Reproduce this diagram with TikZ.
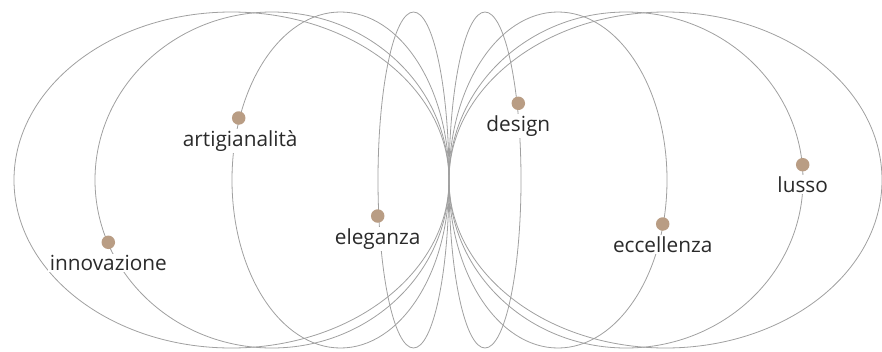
\documentclass[tikz,border=0pt]{standalone}
\usepackage{fontspec}
\setmainfont{Open Sans}
\definecolor{ringc}{HTML}{A0A0A0}
\definecolor{dotc}{HTML}{B99D84}
\definecolor{txtc}{HTML}{2A2A2A}
\tikzset{
  ring/.style={draw=ringc, line width=0.8pt},
  dotpt/.style={circle, fill=dotc, inner sep=0pt, minimum size=13.5pt},
  lbl/.style={fill=white, text=txtc, inner sep=1.5pt, anchor=base,
              font=\fontsize{20.8}{22}\selectfont},
}
\begin{document}
\begin{tikzpicture}[x=1pt,y=-1pt]
\useasboundingbox (0,0) rectangle (882,351);
% left ellipses
\draw[ring] (231.5,180) ellipse [x radius=217.5, y radius=168];
\draw[ring] (272,180) ellipse [x radius=177, y radius=168];
\draw[ring] (340.5,180) ellipse [x radius=108.5, y radius=168];
\draw[ring] (413.5,180) ellipse [x radius=35.5, y radius=168];
% right ellipses
\draw[ring] (485,180) ellipse [x radius=36, y radius=168];
\draw[ring] (558,180) ellipse [x radius=109, y radius=168];
\draw[ring] (626,180) ellipse [x radius=177, y radius=168];
\draw[ring] (665.5,180) ellipse [x radius=216.5, y radius=168];
% dot positions
\coordinate (pinn) at (108.3,242.3);
\coordinate (part) at (238.7,118);
\coordinate (pele) at (377.7,216);
\coordinate (pdes) at (518.3,103.3);
\coordinate (pecc) at (662.7,224);
\coordinate (plus) at (802.7,164.7);
% labels
\node[lbl] (tinn) at ([yshift=-28pt]pinn) {innovazione};
\node[lbl] (tart) at ([xshift=1.5pt,yshift=-28pt]part) {artigianalità};
\node[lbl] (tele) at ([yshift=-28pt]pele) {eleganza};
\node[lbl] (tdes) at ([yshift=-28pt]pdes) {design};
\node[lbl] (tecc) at ([yshift=-28pt]pecc) {eccellenza};
\node[lbl] (tlus) at ([yshift=-28pt]plus) {lusso};
% dots
\node[dotpt] (dinn) at (pinn) {};
\node[dotpt] (dart) at (part) {};
\node[dotpt] (dele) at (pele) {};
\node[dotpt] (ddes) at (pdes) {};
\node[dotpt] (decc) at (pecc) {};
\node[dotpt] (dlus) at (plus) {};
\end{tikzpicture}
\end{document}
